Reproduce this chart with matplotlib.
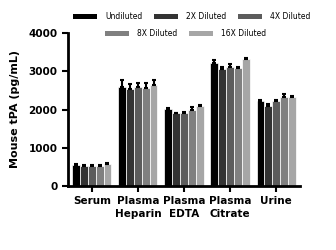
import numpy as np
import matplotlib.pyplot as plt
from matplotlib.patches import Patch

# Sample types and dilution series
categories = ["Serum", "Plasma\nHeparin", "Plasma\nEDTA", "Plasma\nCitrate", "Urine"]
series = ["Undiluted", "2X Diluted", "4X Diluted", "8X Diluted", "16X Diluted"]
colors = ["#000000", "#333333", "#5c5c5c", "#808080", "#a6a6a6"]

undiluted = [545, 2600, 2020, 3225, 2230]
diluted_2x = [535, 2530, 1900, 3060, 2090]
diluted_4x = [530, 2580, 1915, 3110, 2220]
diluted_8x = [535, 2555, 1980, 3095, 2335]
diluted_16x = [570, 2640, 2090, 3330, 2335]

err_undiluted = [20, 170, 25, 70, 20]
err_2x = [10, 130, 10, 50, 60]
err_4x = [10, 105, 10, 70, 20]
err_8x = [10, 130, 95, 15, 70]
err_16x = [20, 130, 15, 15, 15]

values = [undiluted, diluted_2x, diluted_4x, diluted_8x, diluted_16x]
errors = [err_undiluted, err_2x, err_4x, err_8x, err_16x]

fig = plt.figure(figsize=(3.36, 2.5), dpi=100)
ax = fig.add_axes([0.202, 0.256, 0.691, 0.612])

x = np.arange(len(categories))
width = 0.17
for i, (vals, errs) in enumerate(zip(values, errors)):
    pos = x + (i - 2) * width
    ax.bar(pos, vals, width=width, color=colors[i], edgecolor="white", linewidth=0.5)
    ax.errorbar(pos, vals, yerr=[np.zeros(len(errs)), errs], fmt="none",
                ecolor="black", elinewidth=1.5, capsize=1.5, capthick=1.5)

ax.set_xlim(-0.52, 4.52)
ax.set_ylim(0, 4000)
ax.set_yticks([0, 1000, 2000, 3000, 4000])
ax.set_xticks(x)
ax.set_xticklabels(categories, fontsize=7.5, fontweight="bold", linespacing=1.3)
ax.tick_params(axis="y", labelsize=7.5, width=1.5, length=4)
ax.tick_params(axis="x", width=1.5, length=4)
for lab in ax.get_yticklabels():
    lab.set_fontweight("bold")
ax.spines["top"].set_visible(False)
ax.spines["right"].set_visible(False)
ax.spines["left"].set_linewidth(2)
ax.spines["bottom"].set_linewidth(2)
ax.set_ylabel("Mouse tPA (pg/mL)", fontsize=8, fontweight="bold", labelpad=6)

handles = [Patch(facecolor=c, edgecolor="none") for c in colors]
leg_kw = dict(loc="center", frameon=False, fontsize=5.5, handlelength=3.2,
              handleheight=0.6, columnspacing=1.5, handletextpad=1.0)
fig.legend(handles[:3], series[:3], ncol=3, bbox_to_anchor=(0.57, 0.933), **leg_kw)
fig.legend(handles[3:], series[3:], ncol=2, bbox_to_anchor=(0.552, 0.864), **leg_kw)

plt.savefig("out.png", dpi=100)
